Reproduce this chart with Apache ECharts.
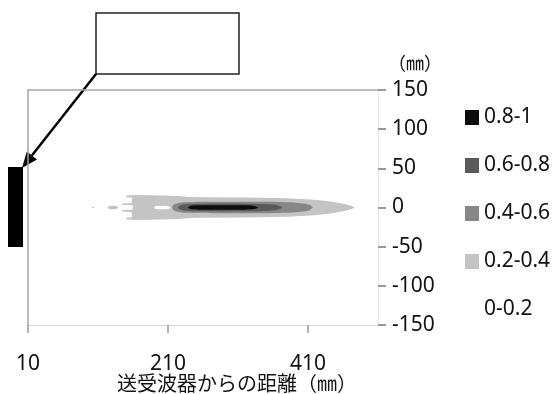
<!DOCTYPE html>
<html><head><meta charset="utf-8">
<script src="https://cdn.jsdelivr.net/npm/echarts@6/dist/echarts.min.js"></script>
<style>html,body{margin:0;padding:0;background:#fff}#c{width:552px;height:394px}</style>
</head><body><div id="c"></div>
<script>
// ---- data ----
const xTicks = [10, 210, 410];
const yMin = -150, yMax = 150, yStep = 50;
const xMin = 10, xMax = 510;
const levels = ['0.8-1', '0.6-0.8', '0.4-0.6', '0.2-0.4', '0-0.2'];
const levelColors = ['#0d0d0d', '#5a5a5a', '#878787', '#c4c4c4', '#ffffff'];
// contour outlines: [distance (mm), upper half-width (mm)]; the lower half is mirrored
const band02Body = [[160,0],[159,2.8],[145,3.2],[144,4.2],[145,5.2],[158,5.6],[159,12.6],[151,13],[150,14],[151,15.2],[165,15.8],[200,15.3],[225,14.8],[240,13.5],[260,13],[320,12.8],[380,11.8],[420,9.8],[445,7.2],[462,4.6],[472,2.3],[477,0]];
const band02Ellipse = [[124,0],[126,1.8],[131,2.3],[136,1.8],[139,0]];
const band02Dot = [[101,0],[103,1.1],[105,0]];
const band00Hole = [[190,0],[193,1.8],[210,1.8],[214,0]];
const band04 = [[216,0],[218,3.5],[224,5.5],[235,6.8],[300,7.2],[370,7],[400,5.5],[412,3.5],[417,0]];
const band06 = [[224,0],[227,2.5],[235,4],[260,4.8],[320,4.8],[355,4],[368,2.5],[374,0]];
const band08 = [[238,0],[242,2],[255,2.8],[320,2.8],[333,2],[339,0]];

function closeOutline(upper) {
  const lower = upper.slice().reverse().map(p => [p[0], -p[1]]);
  return upper.concat(lower);
}

function contourSeries(name, color, shapes, smooth) {
  return {
    type: 'custom', name: name, coordinateSystem: 'cartesian2d',
    xAxisIndex: 0, yAxisIndex: 0, silent: true, animation: false,
    itemStyle: { color: color },
    data: shapes.map((s, i) => [i, 0]),
    renderItem: function (params, api) {
      const pts = closeOutline(shapes[params.dataIndex]).map(p => api.coord(p));
      return { type: 'polygon', shape: { points: pts, smooth: smooth[params.dataIndex] }, style: { fill: color } };
    }
  };
}

const chart = echarts.init(document.getElementById('c'));
const font = "'Noto Sans', 'Noto Sans CJK JP', sans-serif";
chart.setOption({
  animation: false,
  backgroundColor: '#fff',
  grid: { left: 28, right: 174, top: 90, bottom: 69, containLabel: false, outerBoundsMode: 'none' },
  legend: {
    orient: 'vertical', left: 460, top: 102, itemWidth: 14, itemHeight: 15, itemGap: 27,
    icon: 'rect', selectedMode: false,
    data: levels,
    textStyle: { fontFamily: font, fontSize: 21, color: '#111', lineHeight: 21 }
  },
  xAxis: [{
    type: 'value', min: xMin, max: xMax, position: 'bottom',
    axisLine: { onZero: false, lineStyle: { color: '#d9d9d9', width: 1 } },
    axisTick: { show: true, customValues: xTicks, length: 8, lineStyle: { color: '#999', width: 1.5 } },
    axisLabel: { customValues: xTicks, fontFamily: font, fontSize: 21, color: '#111', margin: 29 },
    splitLine: { show: false },
    name: '送受波器からの距離（㎜）', nameLocation: 'middle', nameGap: 48, nameMoveOverlap: false,
    nameTextStyle: { fontFamily: "'Noto Sans CJK JP', sans-serif", fontSize: 20, color: '#111', padding: [0, 0, 0, 68] }
  }, {
    type: 'value', min: xMin, max: xMax, position: 'top',
    axisLine: { show: true, onZero: false, lineStyle: { color: '#a6a6a6', width: 1.5 } },
    axisTick: { show: false }, axisLabel: { show: false }, splitLine: { show: false }
  }],
  yAxis: [{
    type: 'value', min: yMin, max: yMax, interval: yStep, position: 'right',
    axisLine: { show: true, onZero: false, lineStyle: { color: '#e3e3e3', type: 'dotted', width: 1 } },
    axisTick: { show: true, length: 8, lineStyle: { color: '#9a9a9a', width: 2 } },
    axisLabel: { fontFamily: font, fontSize: 21, color: '#111', margin: 14 },
    splitLine: { show: false },
    name: '（㎜）', nameLocation: 'end', nameGap: 18, nameMoveOverlap: false,
    nameTextStyle: { fontFamily: "'Noto Sans CJK JP', sans-serif", fontSize: 18, color: '#111', align: 'left', padding: [0, 0, 0, 10] }
  }, {
    type: 'value', min: yMin, max: yMax, position: 'left',
    axisLine: { show: true, onZero: false, lineStyle: { color: '#a6a6a6', width: 1.5 } },
    axisTick: { show: false }, axisLabel: { show: false }, splitLine: { show: false }
  }],
  series: [
    contourSeries(levels[3], levelColors[3], [band02Body, band02Ellipse, band02Dot], [0, 0.5, 0.5]),
    contourSeries(levels[4], levelColors[4], [band00Hole], [0.5]),
    contourSeries(levels[2], levelColors[2], [band04], [0.4]),
    contourSeries(levels[1], levelColors[1], [band06], [0.4]),
    contourSeries(levels[0], levelColors[0], [band08], [0.4])
  ],
  graphic: [
    { type: 'rect', shape: { x: 96, y: 13, width: 143, height: 61 }, style: { fill: '#fff', stroke: '#222', lineWidth: 1.5 } },
    { type: 'line', shape: { x1: 96, y1: 74, x2: 31.9, y2: 155.4 }, style: { stroke: '#000', lineWidth: 2.5 } },
    { type: 'polygon', shape: { points: [[22, 168], [37.0, 159.4], [26.8, 151.4]] }, style: { fill: '#000' } },
    { type: 'rect', shape: { x: 8, y: 167, width: 15, height: 80 }, style: { fill: '#000' } }
  ]
});
</script>
</body></html>
